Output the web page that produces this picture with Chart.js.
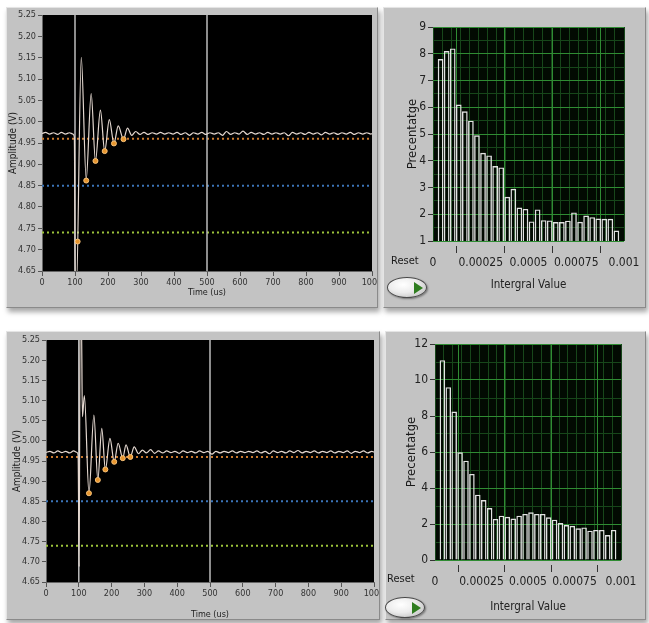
<!DOCTYPE html>
<html>
<head>
<meta charset="utf-8">
<script src="https://cdn.jsdelivr.net/npm/chart.js@4.4.1/dist/chart.umd.min.js"></script>
<style>
  body { margin: 0; background: #fff; width: 649px; height: 623px; position: relative; overflow: hidden;
         font-family: 'DejaVu Sans Condensed', 'Liberation Sans', sans-serif; }
  .panel { position: absolute; background: #c3c3c3; box-sizing: border-box;
           border: 1px solid; border-color: #e4e4e4 #8a8a8a #8a8a8a #e4e4e4;
           box-shadow: 2px 4px 5px rgba(0,0,0,0.35); }
  canvas { position: absolute; }
  .reset { position: absolute; font-size: 11px; color: #1a1a1a; }
  .btn { position: absolute; width: 40px; height: 21px; border-radius: 50%; box-sizing: border-box;
         border: 1px solid #4a4a4a; background: radial-gradient(ellipse at 40% 35%, #ffffff 0%, #ececec 45%, #b4b4b4 100%);
         box-shadow: 1px 1px 2px rgba(0,0,0,0.4); }
  .btn::after { content: ""; position: absolute; left: 26px; top: 4px; width: 0; height: 0;
                border-top: 6px solid transparent; border-bottom: 6px solid transparent; border-left: 9px solid #2f7d1f; }
</style>
</head>
<body>
<div class="panel" style="left:6px;top:7px;width:372px;height:301px"></div>
<div class="panel" style="left:383px;top:7px;width:263px;height:301px"></div>
<div class="panel" style="left:6px;top:331px;width:374px;height:289px"></div>
<div class="panel" style="left:385px;top:331px;width:261px;height:289px"></div>

<canvas id="waveTopChart" width="371" height="300" style="left:6px;top:7px"></canvas>
<canvas id="histTopChart" width="262" height="300" style="left:384px;top:7px"></canvas>
<canvas id="waveBottomChart" width="373" height="287" style="left:6px;top:333px"></canvas>
<canvas id="histBottomChart" width="260" height="287" style="left:386px;top:333px"></canvas>

<div class="reset" style="left:391px;top:254px">Reset</div>
<div class="btn" style="left:387px;top:277px"></div>
<div class="reset" style="left:387px;top:572px">Reset</div>
<div class="btn" style="left:385px;top:597px"></div>

<script>
// waveform samples [time us, amplitude V]
const waveTop = [
  [0,4.972],[11,4.975],[23,4.971],[35,4.974],[47,4.970],[59,4.975],[71,4.971],[83,4.974],[94,4.971],[98,4.964],
  [101,4.60],[104,4.60],[119,5.151],[134,4.865],[149,5.066],[162,4.908],[177,5.027],[190,4.931],[204,5.005],
  [218,4.949],[231,4.990],[247,4.959],[259,4.985],[272,4.968],[284,4.977],[297,4.970],[309,4.975],[322,4.970],
  [334,4.974],[347,4.971],[359,4.975],[372,4.971],[384,4.974],[397,4.971],[409,4.975],[422,4.970],[434,4.974],
  [447,4.968],[459,4.974],[472,4.971],[484,4.975],[497,4.970],[509,4.974],[522,4.971],[534,4.974],[547,4.968],
  [559,4.977],[572,4.970],[584,4.974],[597,4.971],[609,4.978],[622,4.970],[634,4.975],[647,4.971],[659,4.974],
  [672,4.970],[684,4.975],[697,4.971],[709,4.974],[722,4.971],[734,4.974],[747,4.967],[759,4.975],[772,4.971],
  [784,4.974],[797,4.970],[809,4.975],[822,4.971],[834,4.974],[847,4.969],[859,4.975],[872,4.971],[884,4.974],
  [897,4.970],[909,4.974],[922,4.971],[934,4.975],[947,4.970],[959,4.974],[972,4.971],[984,4.974],[997,4.971],
  [1000,4.972]
]
const waveBottom = [
  [0,4.971],[12,4.974],[24,4.970],[36,4.975],[48,4.971],[60,4.974],[72,4.970],[84,4.975],[95,4.971],[98,4.964],
  [101,4.688],[104,5.30],[108,5.30],[111,5.06],[117,5.112],[131,4.870],[146,5.064],[158,4.903],[170,5.031],
  [181,4.929],[195,5.006],[208,4.948],[220,4.994],[234,4.957],[244,4.990],[257,4.960],[269,4.985],[282,4.968],
  [294,4.977],[306,4.970],[319,4.978],[331,4.969],[343,4.975],[356,4.970],[368,4.975],[381,4.971],[393,4.974],
  [406,4.969],[418,4.975],[431,4.971],[443,4.974],[456,4.970],[468,4.975],[481,4.971],[493,4.974],[506,4.967],
  [518,4.974],[531,4.970],[543,4.974],[556,4.971],[568,4.975],[581,4.970],[593,4.974],[606,4.971],[618,4.974],
  [631,4.971],[643,4.975],[656,4.970],[668,4.974],[681,4.968],[693,4.975],[706,4.971],[718,4.974],[731,4.970],
  [743,4.975],[756,4.971],[768,4.976],[781,4.970],[793,4.974],[806,4.971],[818,4.975],[831,4.970],[843,4.974],
  [856,4.971],[868,4.975],[881,4.970],[893,4.974],[906,4.971],[918,4.975],[931,4.969],[943,4.974],[956,4.971],
  [968,4.975],[981,4.970],[993,4.974],[1000,4.972]
]
// detected troughs (orange markers)
const dipsTop = [[108,4.719],[134,4.862],[162,4.908],[190,4.931],[218,4.949],[247,4.959]]
const dipsBottom = [[131,4.870],[158,4.903],[181,4.929],[208,4.948],[234,4.957],[257,4.960]]

// dotted limit lines and cursors
const thresholds = [4.96, 4.85, 4.74]
const thresholdColors = ["#c9792e", "#3b74b8", "#9cc43a"]
const cursorTimes = [100, 500]

// histograms (30 bins over 0 .. 0.001)
const histTop = [7.8, 8.1, 8.2, 6.1, 5.85, 5.5, 4.95, 4.3, 4.2, 3.8, 3.75, 2.65, 2.95, 2.25, 2.2,
                 1.73, 2.18, 1.78, 1.77, 1.71, 1.71, 1.76, 2.07, 1.72, 1.95, 1.89, 1.84, 1.83, 1.83, 1.39]
const histBottom = [11.1, 9.6, 8.25, 5.98, 5.52, 4.78, 3.63, 3.33, 2.89, 2.28, 2.46, 2.4, 2.3, 2.46, 2.56,
                    2.65, 2.56, 2.56, 2.37, 2.24, 2.05, 1.94, 1.9, 1.76, 1.81, 1.63, 1.67, 1.67, 1.39, 1.67]
const histMax = 0.001

Chart.defaults.font.family = "'DejaVu Sans Condensed', 'Liberation Sans', sans-serif"
Chart.defaults.color = "#222"
Chart.defaults.animation = false

// paint the plot area
const plotBg = {
  id: "plotBg",
  beforeDraw(chart, args, opts) {
    const a = chart.chartArea
    const ctx = chart.ctx
    ctx.save()
    ctx.fillStyle = opts.color
    ctx.fillRect(a.left, a.top, a.right - a.left, a.bottom - a.top)
    ctx.restore()
  },
}

function makeWave(id, wave, dips, g) {
  const datasets = [
    { data: dips, type: "scatter", order: 0, pointRadius: 2.5, backgroundColor: "#e8962e", borderColor: "#f7c27a", borderWidth: 1 },
    { data: wave, order: 1, borderColor: "#e4d8d0", borderWidth: 1.2, pointRadius: 0, cubicInterpolationMode: "monotone" },
  ]
  cursorTimes.forEach((t) => {
    datasets.push({ data: [[t, 4.65], [t, 5.25]], order: 2, borderColor: "#bdbdbd", borderWidth: 1.5, pointRadius: 0 })
  })
  thresholds.forEach((v, i) => {
    datasets.push({ data: [[0, v], [1000, v]], order: 3, borderColor: thresholdColors[i], borderWidth: 2, borderDash: [2, 3], pointRadius: 0 })
  })

  new Chart(document.getElementById(id), {
    type: "line",
    data: { datasets },
    plugins: [plotBg],
    options: {
      responsive: false,
      devicePixelRatio: 1,
      layout: { padding: { top: g.top, right: g.right, bottom: g.bottom, left: 0 } },
      plugins: { legend: { display: false }, tooltip: { enabled: false }, plotBg: { color: "#000" } },
      scales: {
        x: {
          type: "linear", min: 0, max: 1000,
          afterFit: (s) => { s.height = g.xh; s.paddingLeft = 0; s.paddingRight = 0 },
          ticks: { stepSize: 100, autoSkip: false, maxRotation: 0, padding: 1, font: { size: 9 }, color: "#333",
                   callback: (v) => String(v) },
          grid: { drawOnChartArea: false, tickLength: 5, color: "#555" },
          border: { color: "#666" },
          title: { display: true, text: "Time (us)", font: { size: 9 }, padding: 0, color: "#222" },
        },
        y: {
          min: 4.65, max: 5.25,
          afterFit: (s) => { s.width = g.yw; s.paddingTop = 0; s.paddingBottom = 0 },
          ticks: { stepSize: 0.05, autoSkip: false, padding: 2, font: { size: 9 }, color: "#333", callback: (v) => v.toFixed(2) },
          grid: { drawOnChartArea: false, tickLength: 4, color: "#555" },
          border: { color: "#666" },
          title: { display: true, text: "Amplitude (V)", font: { size: 10 }, padding: { top: g.yt }, color: "#222" },
        },
      },
    },
  })
}

function makeHist(id, values, g) {
  const binW = histMax / values.length
  new Chart(document.getElementById(id), {
    type: "bar",
    data: {
      datasets: [{
        data: values.map((v, i) => ({ x: (i + 0.5) * binW, y: v })),
        backgroundColor: "rgba(0,0,0,0)",
        borderColor: "#e2e2e2",
        borderWidth: 1.4,
        barPercentage: 0.94,
        categoryPercentage: 1,
      }],
    },
    plugins: [plotBg],
    options: {
      responsive: false,
      devicePixelRatio: 1,
      layout: { padding: { top: g.top, right: g.right, bottom: g.bottom, left: 0 } },
      plugins: { legend: { display: false }, tooltip: { enabled: false }, plotBg: { color: "#020a02" } },
      scales: {
        xm: {
          type: "linear", position: "bottom", min: 0, max: histMax,
          afterFit: (s) => { s.height = 0; s.paddingLeft = 0; s.paddingRight = 0 },
          ticks: { display: false, stepSize: histMax / 20 },
          grid: { color: "#17461a", drawTicks: false },
          border: { display: false },
        },
        ym: {
          position: "left", min: g.ymin, max: g.ymax,
          afterFit: (s) => { s.width = 0; s.paddingTop = 0; s.paddingBottom = 0 },
          ticks: { display: false, stepSize: g.minor },
          grid: { color: "#17461a", drawTicks: false },
          border: { display: false },
        },
        x: {
          type: "linear", min: 0, max: histMax, offset: false,
          afterFit: (s) => { s.height = g.xh; s.paddingLeft = 0; s.paddingRight = 0 },
          ticks: { stepSize: histMax / 4, autoSkip: false, maxRotation: 0, padding: 3, font: { size: 12 }, color: "#222",
                   callback: (v) => String(Number(v.toPrecision(3))) },
          grid: { color: "#2f8c33", tickColor: "#333", tickLength: 12, tickBorderDash: [0, 5, 7, 50] },
          border: { display: false },
          title: { display: true, text: "Intergral Value", font: { size: 11.5 }, padding: 0, color: "#222" },
        },
        y: {
          min: g.ymin, max: g.ymax,
          afterFit: (s) => { s.width = g.yw; s.paddingTop = 0; s.paddingBottom = 0 },
          ticks: { stepSize: g.major, autoSkip: false, padding: 2, font: { size: 12 }, color: "#222" },
          grid: { color: "#2f8c33", tickColor: "#333", tickLength: 5 },
          border: { display: false },
          title: { display: true, text: "Precentatge", font: { size: 13 }, padding: { top: g.yt }, color: "#1a1a1a" },
        },
      },
    },
  })
}

makeWave("waveTopChart", waveTop, dipsTop, { top: 8, right: 2, bottom: 9, xh: 27, yw: 36, yt: 1 })
makeWave("waveBottomChart", waveBottom, dipsBottom, { top: 7, right: 2, bottom: 0, xh: 38, yw: 40, yt: 5 })
makeHist("histTopChart", histTop, { top: 20, right: 22, bottom: 15, xh: 51, yw: 49, yt: 21, ymin: 1, ymax: 9, major: 1, minor: 0.5 })
makeHist("histBottomChart", histBottom, { top: 11, right: 25, bottom: 6, xh: 54, yw: 49, yt: 18, ymin: 0, ymax: 12, major: 2, minor: 1 })
</script>
</body>
</html>
